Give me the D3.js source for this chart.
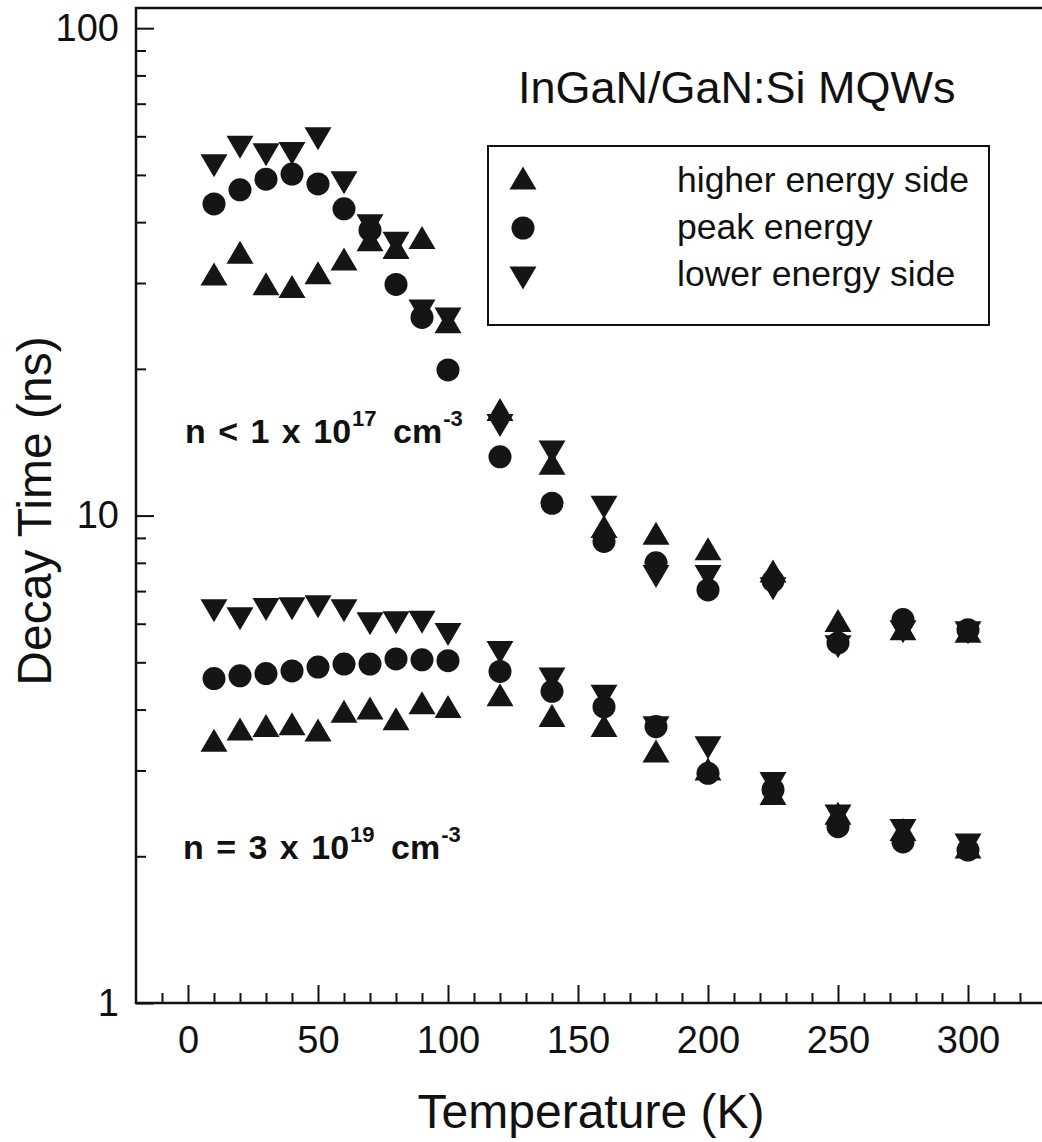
<!DOCTYPE html>
<html>
<head>
<meta charset="utf-8">
<script src="https://cdn.jsdelivr.net/npm/d3@7"></script>
<style>
body { margin: 0; background: #fff; }
svg { display: block; font-family: "Liberation Sans", Arial, Helvetica, sans-serif; }
</style>
</head>
<body>
<div id="chart"></div>
<script>
// temperatures (K)
const temps = [10, 20, 30, 40, 50, 60, 70, 80, 90, 100, 120, 140, 160, 180, 200, 225, 250, 275, 300];

// n < 1e17 cm^-3
const higherLow = [31.3, 34.7, 29.9, 29.5, 31.5, 33.6, 36.8, 35.5, 37.2, 25.0, 16.5, 12.8, 9.5, 9.2, 8.55, 7.7, 6.09, 5.86, 5.79];
const peakLow   = [43.6, 46.6, 49.0, 50.2, 47.9, 42.6, 38.5, 29.8, 25.5, 19.9, 13.2, 10.6, 8.85, 8.0, 7.04, 7.35, 5.48, 6.12, 5.83];
const lowerLow  = [52.2, 57.0, 55.0, 55.3, 59.3, 48.2, 39.3, 36.2, 26.3, 25.3, 15.3, 13.5, 10.4, 7.5, 7.5, 7.08, 5.38, 5.78, 5.75];

// n = 3e19 cm^-3
const higherHigh = [3.46, 3.65, 3.71, 3.74, 3.63, 3.97, 4.03, 3.83, 4.13, 4.06, 4.29, 3.89, 3.71, 3.29, 3.02, 2.69, 2.45, 2.27, 2.09];
const peakHigh   = [4.63, 4.69, 4.74, 4.80, 4.89, 4.96, 4.96, 5.08, 5.06, 5.04, 4.79, 4.36, 4.05, 3.69, 2.96, 2.74, 2.30, 2.14, 2.06];
const lowerHigh  = [6.38, 6.14, 6.42, 6.44, 6.50, 6.38, 6.00, 6.03, 6.04, 5.70, 5.24, 4.62, 4.26, 3.67, 3.34, 2.82, 2.42, 2.26, 2.11];

// axis ticks
const xMajor = [0, 50, 100, 150, 200, 250, 300];
const xMinor = d3.range(-10, 330, 10).filter(d => d % 50 !== 0);
const yMajor = [1, 10, 100];
const yMinor = [2, 3, 4, 5, 6, 7, 8, 9, 20, 30, 40, 50, 60, 70, 80, 90];

const seriesNames = ["higher energy side", "peak energy", "lower energy side"];
const seriesShapes = ["up", "circle", "down"];

const width = 1042, height = 1142;

const x = d3.scaleLinear().domain([-20, 330]).range([136, 1046]);
const y = d3.scaleLog().domain([1, 110]).range([1003, 8]);

const svg = d3.select("#chart")
              .append("svg")
              .attr("width", width)
              .attr("height", height)
              .style("background", "#fff");

// symbol paths, centred on their bounding box
function symbolPath(shape) {
    if (shape === "up") return "M0,-11.5L13.5,11.5L-13.5,11.5Z";
    if (shape === "down") return "M0,11.5L13.5,-11.5L-13.5,-11.5Z";
    return d3.symbol(d3.symbolCircle, Math.PI * 11.5 * 11.5)();
}

// frame
svg.append("rect")
   .attr("x", x.range()[0])
   .attr("y", y.range()[1])
   .attr("width", x.range()[1] - x.range()[0])
   .attr("height", y.range()[0] - y.range()[1])
   .attr("fill", "none")
   .attr("stroke", "#111")
   .attr("stroke-width", 2.5);

function styleAxis(g, size) {
    g.select(".domain").remove();
    g.selectAll("line").attr("stroke", "#111").attr("stroke-width", 2);
    g.selectAll("text")
     .attr("fill", "#111")
     .style("font-size", size + "px");
    g.attr("font-family", null).attr("font-size", null);
}

// x axis
svg.append("g")
   .attr("transform", `translate(0,${y.range()[0]})`)
   .call(d3.axisBottom(x).tickValues(xMinor).tickSize(-10).tickFormat(""))
   .call(g => styleAxis(g, 38));
svg.append("g")
   .attr("transform", `translate(0,${y.range()[0]})`)
   .call(d3.axisBottom(x).tickValues(xMajor).tickSize(-18).tickPadding(23).tickFormat(d3.format("d")))
   .call(g => styleAxis(g, 38));

// y axis
svg.append("g")
   .attr("transform", `translate(${x.range()[0]},0)`)
   .call(d3.axisLeft(y).tickValues(yMinor).tickSize(-10).tickFormat(""))
   .call(g => styleAxis(g, 38));
svg.append("g")
   .attr("transform", `translate(${x.range()[0]},0)`)
   .call(d3.axisLeft(y).tickValues(yMajor).tickSize(-18).tickPadding(17).tickFormat(d3.format("d")))
   .call(g => styleAxis(g, 38));

// axis titles
svg.append("text")
   .attr("x", 591)
   .attr("y", 1128)
   .attr("text-anchor", "middle")
   .attr("font-size", 48)
   .attr("fill", "#111")
   .text("Temperature (K)");

svg.append("text")
   .attr("transform", "translate(51,511) rotate(-90)")
   .attr("text-anchor", "middle")
   .attr("font-size", 48)
   .attr("fill", "#111")
   .text("Decay Time (ns)");

// data points
const groups = [
    [higherLow, higherHigh],
    [peakLow, peakHigh],
    [lowerLow, lowerHigh]
];

groups.forEach((sets, i) => {
    const pts = [];
    sets.forEach(vals => vals.forEach((v, j) => pts.push({ t: temps[j], v: v })));
    svg.append("g")
       .selectAll("path")
       .data(pts)
       .enter().append("path")
       .attr("d", symbolPath(seriesShapes[i]))
       .attr("transform", d => `translate(${x(d.t)},${y(d.v)})`)
       .attr("fill", "#151515");
});

// title
svg.append("text")
   .attr("x", 518)
   .attr("y", 103)
   .attr("font-size", 45)
   .attr("fill", "#111")
   .text("InGaN/GaN:Si MQWs");

// legend
const legend = svg.append("g");
legend.append("rect")
      .attr("x", 488)
      .attr("y", 146)
      .attr("width", 501)
      .attr("height", 179)
      .attr("fill", "#fff")
      .attr("stroke", "#111")
      .attr("stroke-width", 2);

const legendRows = legend.selectAll("g.row")
      .data(seriesNames)
      .enter().append("g")
      .attr("class", "row")
      .attr("transform", (d, i) => `translate(0,${i * 50})`);

legendRows.append("path")
      .attr("d", (d, i) => symbolPath(seriesShapes[i]))
      .attr("transform", "translate(523,178)")
      .attr("fill", "#151515");

legendRows.append("text")
      .attr("x", 677)
      .attr("y", (d, i) => 192 - i * 3)
      .attr("font-size", 35.5)
      .attr("fill", "#111")
      .text(d => d);

// concentration labels
function concLabel(xp, yp, base, exp) {
    const t = svg.append("text")
                 .attr("x", xp)
                 .attr("y", yp)
                 .attr("font-size", 34)
                 .attr("font-weight", "bold")
                 .attr("fill", "#111")
                 .style("white-space", "pre")
                 .style("word-spacing", "3px");
    t.append("tspan").text(base);
    t.append("tspan").attr("font-size", 22).attr("dy", -17).attr("dx", 1).text(exp);
    t.append("tspan").attr("dy", 17).attr("dx", 4).text(" cm");
    t.append("tspan").attr("font-size", 22).attr("dy", -17).attr("dx", 1).text("-3");
}

concLabel(185, 443, "n < 1 x 10", "17");
concLabel(183, 859, "n = 3 x 10", "19");
</script>
</body>
</html>
